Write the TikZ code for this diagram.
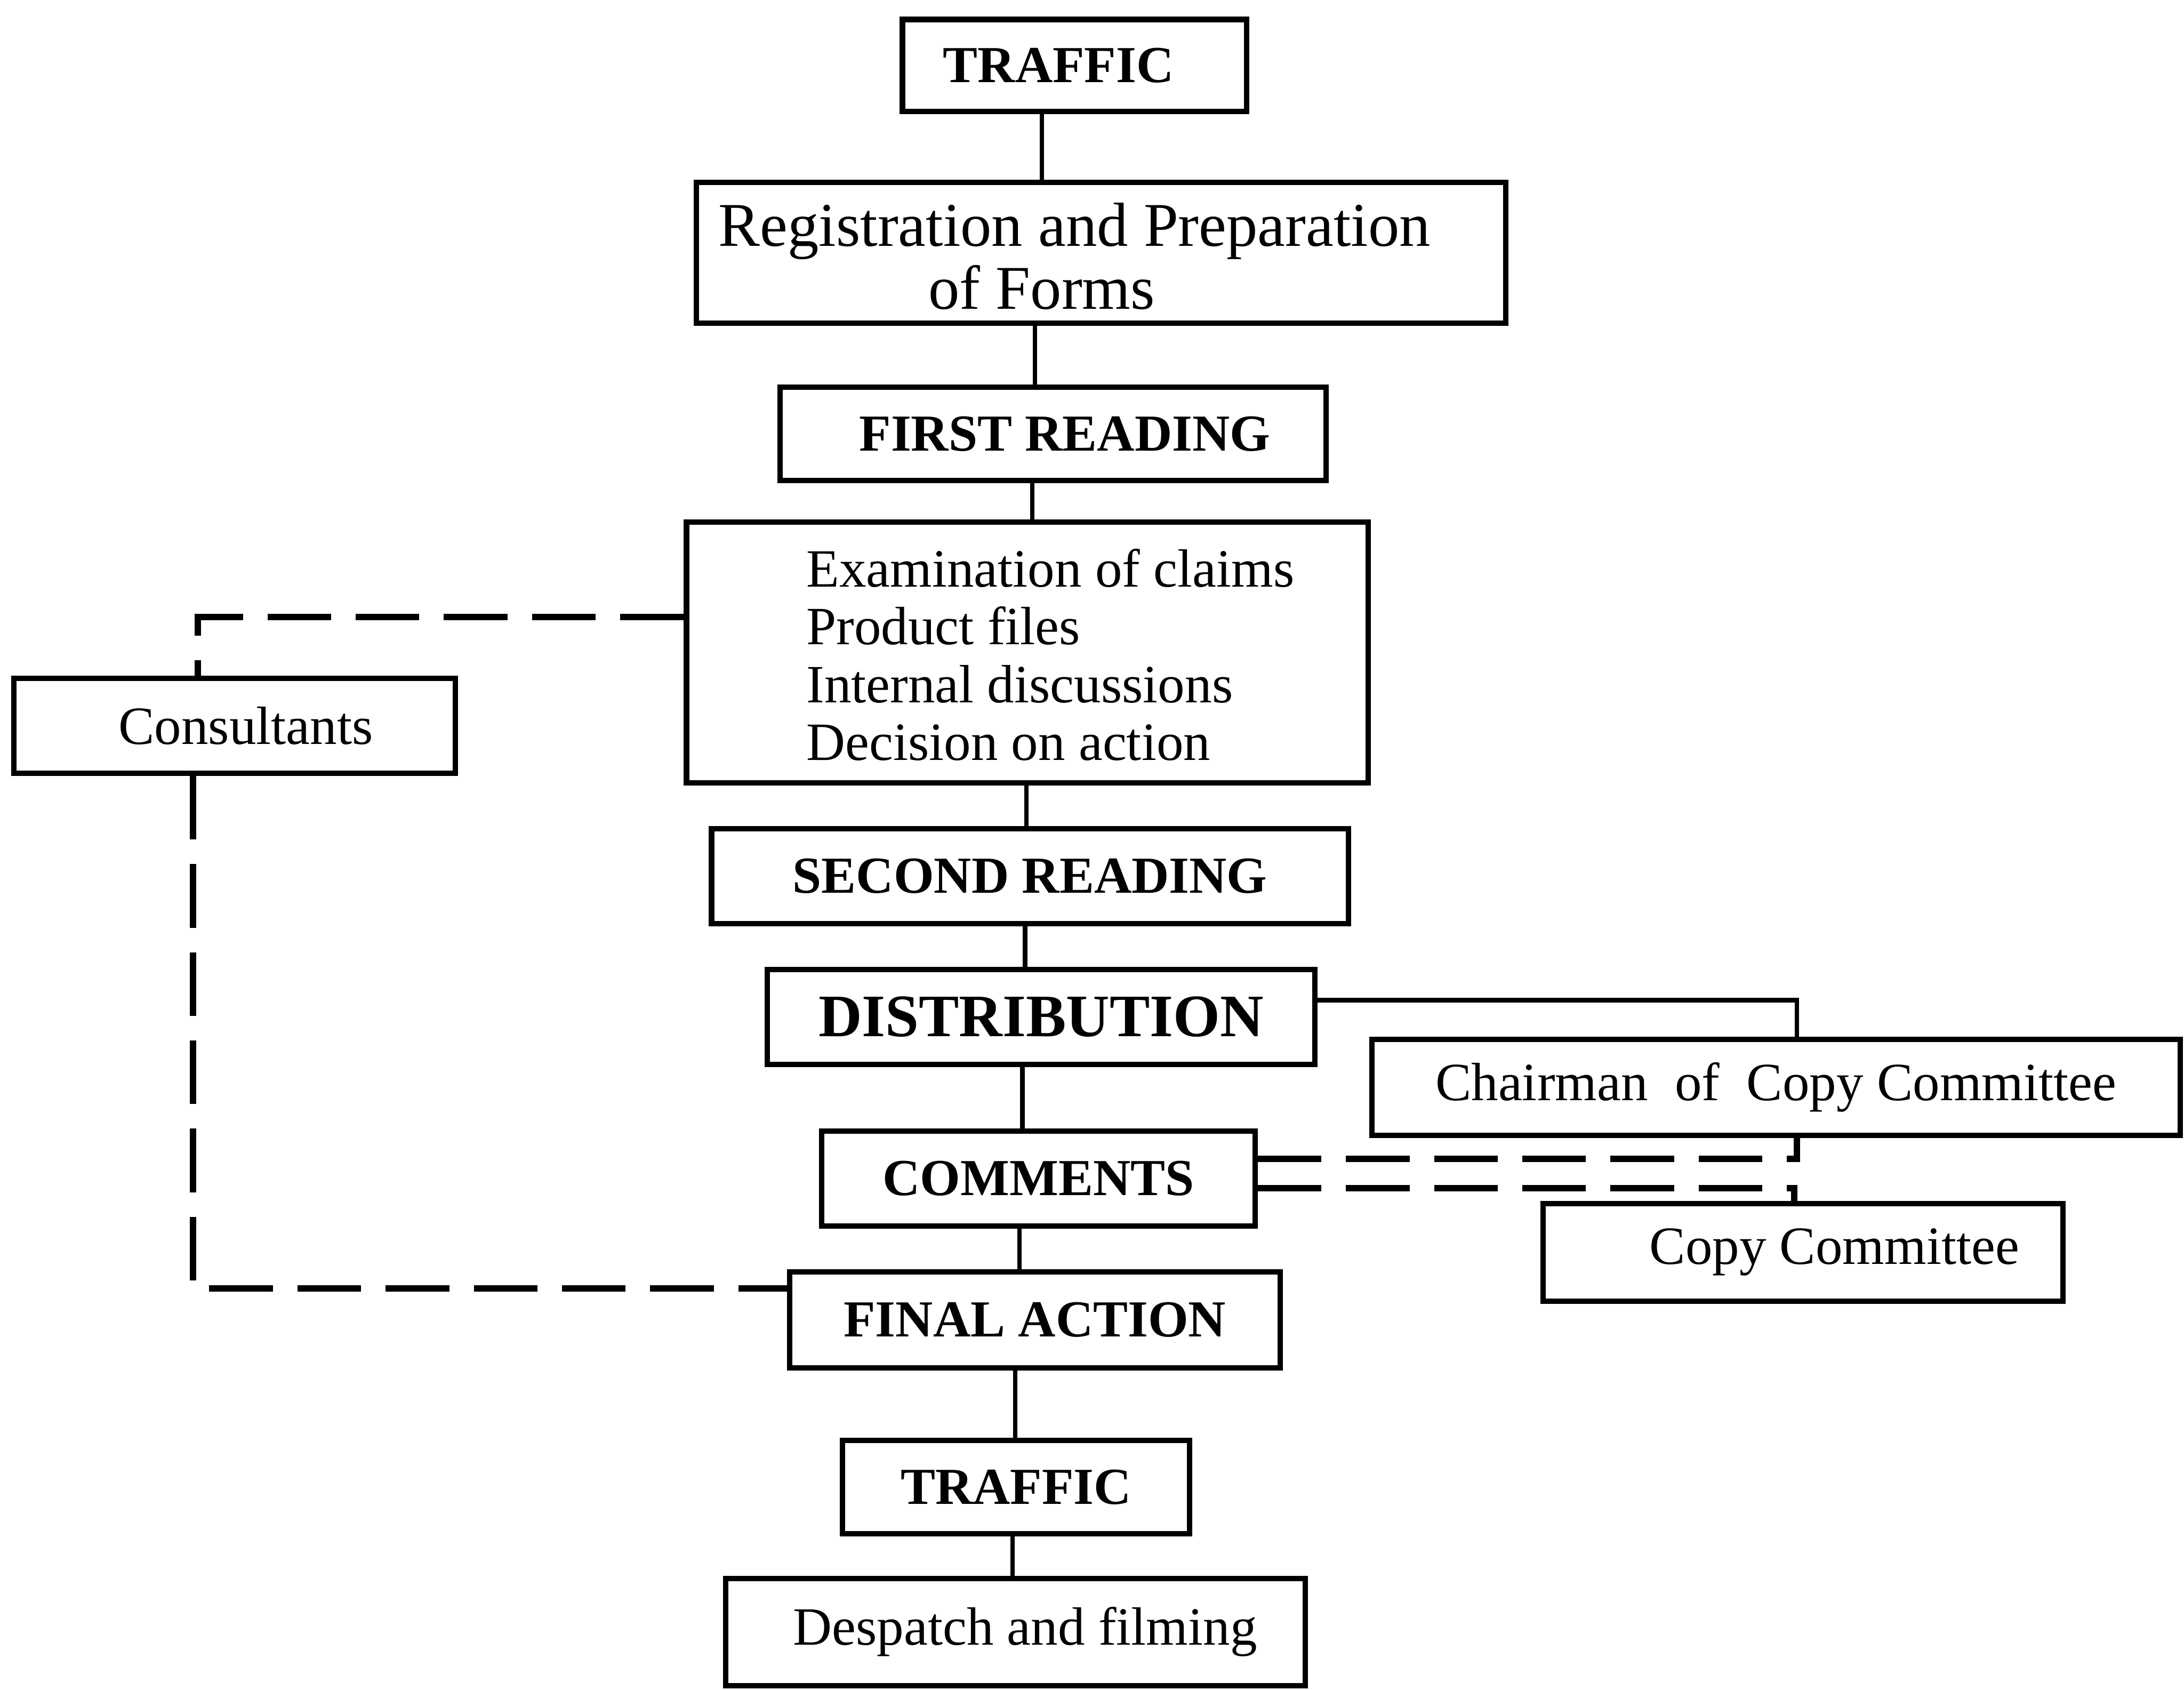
\documentclass[tikz,border=0pt]{standalone}
\usepackage{fontspec}
\setmainfont{Liberation Serif}

\begin{document}
\begin{tikzpicture}
[x=0.01cm,y=-0.01cm,%
  every node/.style={shape=rectangle,inner sep=1.5pt},%
  stage/.style={draw,line width=1.1pt},%
  caps/.style={font=\fontsize{10.6}{12}\selectfont\bfseries},%
  bigcaps/.style={font=\fontsize{12.3}{14}\selectfont\bfseries},%
  plain/.style={font=\fontsize{11}{11.8}\selectfont},%
  link/.style={line width=0.9pt},%
  dlink/.style={line width=1.3pt,dash pattern=on 13pt off 5pt}]
\useasboundingbox (0,0) rectangle (1568,1213);
% main column
\node[stage,caps,minimum width=2.47cm,minimum height=0.66cm] (traf1) at (771.5,47) {TRAFFIC\hspace*{0.23cm}};
\node[stage,minimum width=5.81cm,minimum height=1.01cm] (reg) at (790.5,181.5) {};
\node[font=\fontsize{12.7}{12.8}\selectfont,align=center] (regtext) at (771.5,184)
  {Registration and Preparation\\of Forms\hspace*{0.47cm}};
\node[stage,caps,minimum width=3.92cm,minimum height=0.67cm] (first) at (756,311.5) {\hspace*{0.17cm}FIRST READING};
\node[stage,minimum width=4.89cm,minimum height=1.87cm] (exam) at (737.5,468.5) {};
\node[plain,align=left,anchor=west] (examtext) at (573,470)
  {Examination of claims\\Product files\\Internal discussions\\Decision on action};
\node[stage,caps,minimum width=4.57cm,minimum height=0.68cm] (second) at (739.5,629) {SECOND READING};
\node[stage,bigcaps,minimum width=3.93cm,minimum height=0.68cm] (dist) at (747.5,730) {DISTRIBUTION};
\node[stage,caps,minimum width=3.11cm,minimum height=0.68cm] (comm) at (745.5,846) {COMMENTS};
\node[stage,caps,minimum width=3.52cm,minimum height=0.69cm] (final) at (743,947.5) {FINAL ACTION};
\node[stage,caps,minimum width=2.49cm,minimum height=0.67cm] (traf2) at (729.5,1067.5) {TRAFFIC};
\node[stage,plain,minimum width=4.16cm,minimum height=0.77cm] (desp) at (729,1171.5) {\hspace*{0.14cm}Despatch and filming};
% side boxes
\node[stage,plain,minimum width=3.17cm,minimum height=0.68cm] (cons) at (168.5,521) {\hspace*{0.16cm}Consultants};
\node[stage,plain,minimum width=5.80cm,minimum height=0.69cm] (chair) at (1275,780.5) {Chairman\ \ of\ \ Copy Committee};
\node[stage,plain,minimum width=3.73cm,minimum height=0.70cm] (copy) at (1294.5,899) {\hspace*{0.45cm}Copy Committee};
% connectors
\foreach \a/\b/\x in {traf1/reg/748,reg/first/743,first/exam/741,exam/second/737,second/dist/736,%
  dist/comm/734,comm/final/732,final/traf2/729,traf2/desp/727}
{\coordinate (sp) at (\x,0);
 \draw[link] (\a.south -| sp) -- (\b.north -| sp);}
\draw[link] ([yshift=0.12cm]dist.east) -| ([xshift=0.15cm]chair.north);
\draw[dlink] ([yshift=0.255cm]exam.west) -| ([xshift=-0.265cm]cons.north);
\draw[dlink] ([xshift=-0.3cm]cons.south) |- ([yshift=0.225cm]final.west);
\draw[dlink] ([yshift=0.14cm]comm.east) -| ([xshift=0.15cm]chair.south);
\draw[dlink] ([yshift=-0.07cm]comm.east) -| ([xshift=-0.065cm]copy.north);
\end{tikzpicture}
\end{document}
